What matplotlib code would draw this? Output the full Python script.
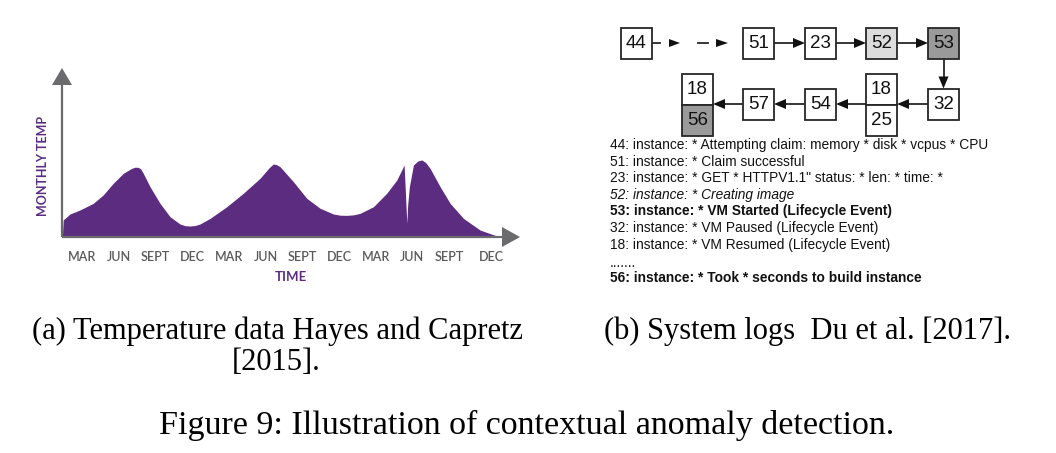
import numpy as np
import matplotlib
matplotlib.use('Agg')
import matplotlib.pyplot as plt
from matplotlib.patches import Rectangle, Polygon

W, H = 1056, 453
PURPLE = '#5b2c80'
AXGREY = '#6b6b6e'
TICKGREY = '#5a5a5a'
LINE = '#262626'

# ── data: monthly temperature curve (months since Jan of year 1) ───────────
months = [1.40, 1.47, 2.02, 2.84, 3.92, 4.74, 5.56, 6.38, 7.06, 7.35, 7.60, 7.80,
          8.01, 8.56, 9.38, 10.20, 11.01, 11.43, 11.83, 12.25, 12.65, 13.47,
          14.83, 16.19, 17.55, 18.30, 18.64, 18.90, 19.19, 20.28, 21.37, 22.46,
          23.55, 24.10, 24.64, 25.20, 25.73, 26.82, 27.91, 28.73, 29.33, 29.55,
          29.62, 29.76, 30.09, 30.45, 30.78, 31.10, 31.45, 32.27, 33.09, 34.18,
          35.54, 36.91]
temp = [0.0, 10.1, 13.6, 16.0, 19.9, 24.9, 31.8, 37.7, 40.6, 41.3, 41.2, 40.3,
        37.7, 29.8, 19.9, 12.0, 7.7, 6.7, 6.5, 6.8, 7.7, 11.0,
        17.9, 25.9, 34.7, 41.0, 43.2, 42.8, 41.6, 32.7, 22.9, 17.0,
        13.6, 12.9, 12.8, 13.1, 14.0, 17.9, 25.9, 33.7, 42.6, 8.1,
        18.9, 29.8, 42.6, 45.0, 45.6, 44.0, 40.6, 29.8, 19.9, 11.0,
        4.1, 0.6]
tick_pos = [3, 6, 9, 12, 15, 18, 21, 24, 27, 30, 33, 36.5]
tick_lbl = ['MAR', 'JUN', 'SEPT', 'DEC'] * 3

# ── data: log key chain and log lines ─────────────────────────────────────
top_keys = ['44', '51', '23', '52', '53']
bottom_keys = ['32', '18/25', '54', '57', '18/56']
log_lines = [
    ('44: instance: * Attempting claim: memory * disk * vcpus * CPU', 'normal'),
    ('51: instance: * Claim successful', 'normal'),
    ('23: instance: * GET * HTTPV1.1" status: * len: * time: *', 'normal'),
    ('52: instance: * Creating image', 'italic'),
    ('53: instance: * VM Started (Lifecycle Event)', 'bold'),
    ('32: instance: * VM Paused (Lifecycle Event)', 'normal'),
    ('18: instance: * VM Resumed (Lifecycle Event)', 'normal'),
    ('.......', 'normal'),
    ('56: instance: * Took * seconds to build instance', 'bold'),
]

fig = plt.figure(figsize=(W / 100, H / 100), dpi=100)
fig.patch.set_facecolor('white')

def px_axes(l, t, r, b):
    return fig.add_axes([l / W, 1 - b / H, (r - l) / W, (b - t) / H])

# ── (a) temperature chart ─────────────────────────────────────────────────
ax = px_axes(62, 68, 520, 237)
ax.fill_between(months, 0, temp, color=PURPLE, lw=0, zorder=1)
ax.set_xlim(1.37, 38.8)
ax.set_ylim(0, 100)
for s in ax.spines.values():
    s.set_visible(False)
ax.set_yticks([])
ax.set_xticks(tick_pos)
ax.set_xticklabels(tick_lbl, fontsize=9, color=TICKGREY, family='Lato',
                   fontweight='semibold')
for lbl in ax.get_xticklabels():
    lbl.set_verticalalignment('baseline')
ax.tick_params(axis='x', length=0, pad=17)
ax.patch.set_alpha(0)

# overlay axes in pixel coords
ov = fig.add_axes([0, 0, 1, 1])
ov.set_xlim(0, W)
ov.set_ylim(H, 0)
ov.axis('off')
ov.patch.set_alpha(0)

# axis lines with arrowheads
ov.plot([62, 62], [237, 84], color=AXGREY, lw=1.6, solid_capstyle='butt')
ov.add_patch(Polygon([[52, 85], [72, 85], [62, 68]], closed=True, color=AXGREY, lw=0))
ov.plot([62, 503], [237, 237], color=AXGREY, lw=1.6, solid_capstyle='butt')
ov.add_patch(Polygon([[502, 227], [502, 247], [520, 237]], closed=True, color=AXGREY, lw=0))

ov.text(43, 166, 'MONTHLY TEMP', rotation=90, ha='center', va='center',
        fontsize=9, color=PURPLE, family='Lato', fontweight='bold')
ov.text(291, 277, 'TIME', ha='center', va='center', fontsize=9.5,
        color=PURPLE, family='Lato', fontweight='bold')

# ── (b) log key diagram ───────────────────────────────────────────────────
BOX = 31
def box(x, y, label, face='white', h=BOX):
    ov.add_patch(Rectangle((x, y), BOX, h, facecolor=face, edgecolor=LINE, lw=1.3, zorder=3))
    ov.text(x + BOX / 2, y + h / 2 + 0.5, label, ha='center', va='center',
            fontsize=13.5, family='Liberation Sans', color='#111111', zorder=4)

def head(xt, yt, dx, dy, L=12, Wd=10):
    # triangle tip at (xt, yt) pointing in direction (dx, dy)
    px, py = -dy, dx
    bx, by = xt - dx * L, yt - dy * L
    ov.add_patch(Polygon([[xt, yt], [bx + px * Wd / 2, by + py * Wd / 2],
                          [bx - px * Wd / 2, by - py * Wd / 2]],
                         closed=True, color='#111111', lw=0, zorder=5))

def arrow(x0, y0, x1, y1):
    L = np.hypot(x1 - x0, y1 - y0)
    dx, dy = (x1 - x0) / L, (y1 - y0) / L
    ov.plot([x0, x1 - dx * 8], [y0, y1 - dy * 8], color=LINE, lw=1.3, zorder=2)
    head(x1, y1, dx, dy)

top_y = 27.5
top_x = [621, 743, 805, 866, 928]
top_face = ['white', 'white', 'white', '#dcdcdc', '#9a9a9a']
for x, k, f in zip(top_x, top_keys, top_face):
    box(x, top_y, k, f)
cy = top_y + BOX / 2
# dashed connector 44 -> 51
ov.plot([652, 660], [cy, cy], color=LINE, lw=1.3)
head(680, cy, 1, 0, L=11, Wd=8)
ov.plot([698, 708], [cy, cy], color=LINE, lw=1.3)
head(728, cy, 1, 0, L=12, Wd=8)
for i in range(1, 4):
    arrow(top_x[i] + BOX, cy, top_x[i + 1], cy)
arrow(928 + BOX / 2, top_y + BOX, 928 + BOX / 2, 88.5)

bot_y = 88.5
by_c = bot_y + BOX / 2
box(928, bot_y, bottom_keys[0])
# stacked 18 / 25
t1, t2 = bottom_keys[1].split('/')
box(866, 73.5, t1)
box(866, 104.5, t2)
box(805, bot_y, bottom_keys[2])
box(743, bot_y, bottom_keys[3])
s1, s2 = bottom_keys[4].split('/')
box(682, 73.5, s1)
box(682, 104.5, s2, '#9a9a9a')
arrow(928, by_c, 866 + BOX, by_c)
arrow(866, by_c, 805 + BOX, by_c)
arrow(805, by_c, 743 + BOX, by_c)
arrow(743, by_c, 682 + BOX, by_c)

# log lines
y0, dy_line = 145, 16.6
for i, (txt, st) in enumerate(log_lines):
    yy = y0 + i * dy_line + (2 if txt.startswith('...') else 0)
    ov.text(610, yy, txt, ha='left', va='center', fontsize=9.9,
            family='Liberation Sans', color='#111111',
            fontweight='bold' if st == 'bold' else 'normal',
            fontstyle='italic' if st == 'italic' else 'normal')

# ── captions ─────────────────────────────────────────────────────────────
serif = 'Liberation Serif'
ov.text(278, 331, '(a) Temperature data Hayes and Capretz', ha='center', va='center',
        fontsize=22, family=serif)
ov.text(276, 362, '[2015].', ha='center', va='center', fontsize=22, family=serif)
ov.text(807, 331, '(b) System logs  Du et al. [2017].', ha='center', va='center',
        fontsize=22, family=serif)
ov.text(527, 425, 'Figure 9: Illustration of contextual anomaly detection.',
        ha='center', va='center', fontsize=24.5, family=serif)

fig.savefig('out.png', dpi=100, facecolor='white')
